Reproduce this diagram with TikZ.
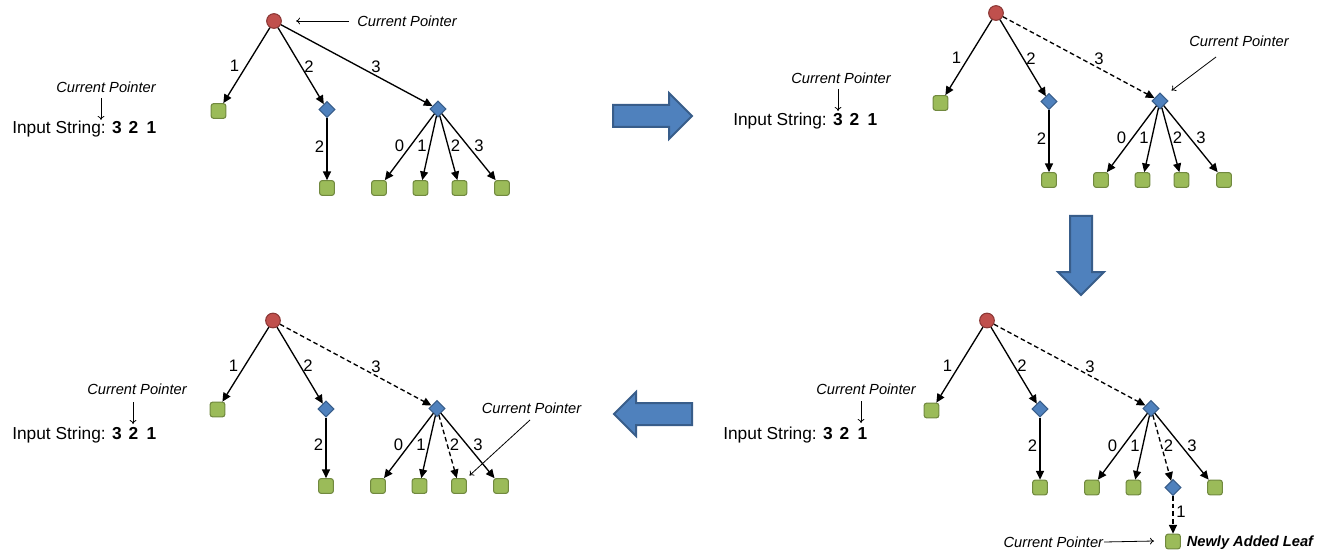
\documentclass[tikz,border=0pt]{standalone}
\usepackage{fontspec}
\setmainfont{Liberation Sans}
\usetikzlibrary{arrows.meta,shapes.geometric}
\definecolor{rootfill}{HTML}{C0504D}
\definecolor{rootline}{HTML}{8C3836}
\definecolor{leaffill}{HTML}{9BBB59}
\definecolor{leafline}{HTML}{71893F}
\definecolor{innerfill}{HTML}{4F81BD}
\definecolor{innerline}{HTML}{385D8A}
\tikzset{
  rootnode/.style={circle, fill=rootfill, draw=rootline, line width=0.8pt, minimum size=11pt, inner sep=0},
  leaf/.style={rectangle, rounded corners=1.8pt, fill=leaffill, draw=leafline, line width=0.8pt, minimum size=11pt, inner sep=0},
  branch/.style={diamond, fill=innerfill, draw=innerline, line width=0.8pt, minimum width=12pt, minimum height=12pt, inner sep=0},
  link/.style={line width=1pt, -{Triangle[length=6.5pt,width=6pt]}},
  dashlink/.style={link, dash pattern=on 3.5pt off 2.2pt},
  elabel/.style={font=\fontsize{12.5}{14}\selectfont, inner sep=0},
  ptrtext/.style={font=\fontsize{11}{13}\selectfont\itshape, inner sep=1pt},
  ptr/.style={line width=0.6pt, -{To[length=3pt,width=5pt]}},
  inputstr/.style={font=\fontsize{13}{15}\selectfont, anchor=west, inner sep=0},
  bigarrow/.style={fill=innerfill, draw=innerline, line width=1.5pt, line join=miter},
}
\newcommand\inputtext{Input String:\hspace{4.8pt}\textbf{3}\hspace{5.2pt}\textbf{2}\hspace{6.3pt}\textbf{1}}
\begin{document}
\begin{tikzpicture}[x=0.75pt,y=-0.75pt]
\path[use as bounding box, fill=white] (0,0) rectangle (1326,552);

% ---------- stage 1 (top left) ----------
\begin{scope}[shift={(274,21)}, name prefix=a-]
  \node[rootnode] (root) at (0,0) {};
  \node[leaf]   (l1) at (-55.5,90) {};
  \node[branch] (d2) at (53,88.5) {};
  \node[branch] (d3) at (164,88) {};
  \node[leaf]   (l2) at (53,167) {};
  \node[leaf]   (la) at (105,167) {};
  \node[leaf]   (lb) at (146.5,167) {};
  \node[leaf]   (lc) at (185.5,167) {};
  \node[leaf]   (ld) at (228,167) {};
  \draw[link] (root) -- (l1);
  \draw[link] (root) -- (d2);
  \draw[link] (root) -- (d3);
  \draw[link] (d2) -- (l2);
  \draw[link] (d3) -- (la);
  \draw[link] (d3) -- (lb);
  \draw[link] (d3) -- (lc);
  \draw[link] (d3) -- (ld);
  \node[elabel] (e1) at (-39.5,45) {1};
  \node[elabel] (e2) at (35,45.5) {2};
  \node[elabel] (e3) at (102,46) {3};
  \node[elabel] (e4) at (45.5,125.5) {2};
  \node[elabel] (e5) at (125.5,125) {0};
  \node[elabel] (e6) at (148,125) {1};
  \node[elabel] (e7) at (181.5,125) {2};
  \node[elabel] (e8) at (205,125) {3};
  \node[ptrtext, anchor=west, inner xsep=6pt] (ptxt) at (75,0) {Current Pointer};
  \coordinate (ptip) at (22,0);
  \draw[ptr] (ptxt.west) -- (ptip);
\end{scope}
\node[ptrtext] (a-itxt) at (106,87) {Current Pointer};
\coordinate (a-is) at (101,98);
\coordinate (a-ie) at (101,120);
\draw[ptr] (a-is) -- (a-ie);
\node[inputstr] (a-input) at (12,129) {\inputtext};

% ---------- stage 2 (top right) ----------
\begin{scope}[shift={(996,13)}, name prefix=b-]
  \node[rootnode] (root) at (0,0) {};
  \node[leaf]   (l1) at (-55.5,90) {};
  \node[branch] (d2) at (53,88.5) {};
  \node[branch] (d3) at (164,88) {};
  \node[leaf]   (l2) at (53,167) {};
  \node[leaf]   (la) at (105,167) {};
  \node[leaf]   (lb) at (146.5,167) {};
  \node[leaf]   (lc) at (185.5,167) {};
  \node[leaf]   (ld) at (228,167) {};
  \draw[link] (root) -- (l1);
  \draw[link] (root) -- (d2);
  \draw[dashlink] (root) -- (d3);
  \draw[link] (d2) -- (l2);
  \draw[link] (d3) -- (la);
  \draw[link] (d3) -- (lb);
  \draw[link] (d3) -- (lc);
  \draw[link] (d3) -- (ld);
  \node[elabel] (e1) at (-39.5,45) {1};
  \node[elabel] (e2) at (35,45.5) {2};
  \node[elabel] (e3) at (103,46) {3};
  \node[elabel] (e4) at (45.5,125.5) {2};
  \node[elabel] (e5) at (125.5,125) {0};
  \node[elabel] (e6) at (148,125) {1};
  \node[elabel] (e7) at (181.5,125) {2};
  \node[elabel] (e8) at (205,125) {3};
  \node[ptrtext] (ptxt) at (243,28) {Current Pointer};
  \coordinate (ps) at (220,44);
  \coordinate (ptip) at (175.5,77.5);
  \draw[ptr] (ps) -- (ptip);
\end{scope}
\node[ptrtext] (b-itxt) at (841,78) {Current Pointer};
\coordinate (b-is) at (838,89);
\coordinate (b-ie) at (838,111);
\draw[ptr] (b-is) -- (b-ie);
\node[inputstr] (b-input) at (733,121) {\inputtext};

% ---------- stage 3 (bottom right) ----------
\begin{scope}[shift={(987,320.5)}, name prefix=c-]
  \node[rootnode] (root) at (0,0) {};
  \node[leaf]   (l1) at (-55.5,90) {};
  \node[branch] (d2) at (53,88.5) {};
  \node[branch] (d3) at (164,88) {};
  \node[leaf]   (l2) at (53,167) {};
  \node[leaf]   (la) at (105,167) {};
  \node[leaf]   (lb) at (146.5,167) {};
  \node[branch] (dn) at (186,167) {};
  \node[leaf]   (ld) at (228,167) {};
  \node[leaf]   (ln) at (186,221) {};
  \draw[link] (root) -- (l1);
  \draw[link] (root) -- (d2);
  \draw[dashlink] (root) -- (d3);
  \draw[link] (d2) -- (l2);
  \draw[link] (d3) -- (la);
  \draw[link] (d3) -- (lb);
  \draw[dashlink] (d3) -- (dn);
  \draw[link] (d3) -- (ld);
  \draw[dashlink] (dn) -- (ln);
  \node[elabel] (e1) at (-39.5,45) {1};
  \node[elabel] (e2) at (35,45.5) {2};
  \node[elabel] (e3) at (103,46) {3};
  \node[elabel] (e4) at (45.5,125.5) {2};
  \node[elabel] (e5) at (125.5,125) {0};
  \node[elabel] (e6) at (148,125) {1};
  \node[elabel] (e7) at (181.5,125) {2};
  \node[elabel] (e8) at (205,125) {3};
  \node[elabel] (e9) at (194,191) {1};
  \node[font=\fontsize{11}{13}\selectfont\bfseries\itshape, anchor=west, inner sep=0] (newtxt) at (199.5,222) {Newly Added Leaf};
  \node[ptrtext, anchor=east, inner sep=0.5pt] (ptxt) at (117,221.5) {Current Pointer};
  \coordinate (ptip) at (167,220.5);
  \draw[ptr] (ptxt.east) -- (ptip);
\end{scope}
\node[ptrtext] (c-itxt) at (866,389) {Current Pointer};
\coordinate (c-is) at (861,401);
\coordinate (c-ie) at (861,423);
\draw[ptr] (c-is) -- (c-ie);
\node[inputstr] (c-input) at (723,435) {\inputtext};

% ---------- stage 4 (bottom left) ----------
\begin{scope}[shift={(273,320.5)}, name prefix=d-]
  \node[rootnode] (root) at (0,0) {};
  \node[leaf]   (l1) at (-55.5,89) {};
  \node[branch] (d2) at (53,88.5) {};
  \node[branch] (d3) at (164,88) {};
  \node[leaf]   (l2) at (53,165.5) {};
  \node[leaf]   (la) at (105,165.5) {};
  \node[leaf]   (lb) at (146.5,165.5) {};
  \node[leaf]   (lc) at (186,165.5) {};
  \node[leaf]   (ld) at (228,165.5) {};
  \draw[link] (root) -- (l1);
  \draw[link] (root) -- (d2);
  \draw[dashlink] (root) -- (d3);
  \draw[link] (d2) -- (l2);
  \draw[link] (d3) -- (la);
  \draw[link] (d3) -- (lb);
  \draw[dashlink] (d3) -- (lc);
  \draw[link] (d3) -- (ld);
  \node[elabel] (e1) at (-39.5,45) {1};
  \node[elabel] (e2) at (35,45.5) {2};
  \node[elabel] (e3) at (103,46) {3};
  \node[elabel] (e4) at (45.5,124.5) {2};
  \node[elabel] (e5) at (125.5,124) {0};
  \node[elabel] (e6) at (148,124) {1};
  \node[elabel] (e7) at (181.5,124) {2};
  \node[elabel] (e8) at (205,124) {3};
  \node[ptrtext] (ptxt) at (258.5,87.5) {Current Pointer};
  \coordinate (ps) at (257,99.5);
  \coordinate (ptip) at (196.5,155);
  \draw[ptr] (ps) -- (ptip);
\end{scope}
\node[ptrtext] (d-itxt) at (137,389) {Current Pointer};
\coordinate (d-is) at (133,402);
\coordinate (d-ie) at (133,424);
\draw[ptr] (d-is) -- (d-ie);
\node[inputstr] (d-input) at (12,435) {\inputtext};

% ---------- block arrows between stages ----------
\draw[bigarrow] (613,105) -- (669,105) -- (669,93) -- (692,116) -- (669,139) -- (669,127) -- (613,127) -- cycle;
\draw[bigarrow] (1070,216) -- (1092,216) -- (1092,272) -- (1104,272) -- (1081,295) -- (1058,272) -- (1070,272) -- cycle;
\draw[bigarrow] (692,403) -- (692,425) -- (636,425) -- (636,436) -- (614,414) -- (636,392) -- (636,403) -- cycle;
\end{tikzpicture}
\end{document}
